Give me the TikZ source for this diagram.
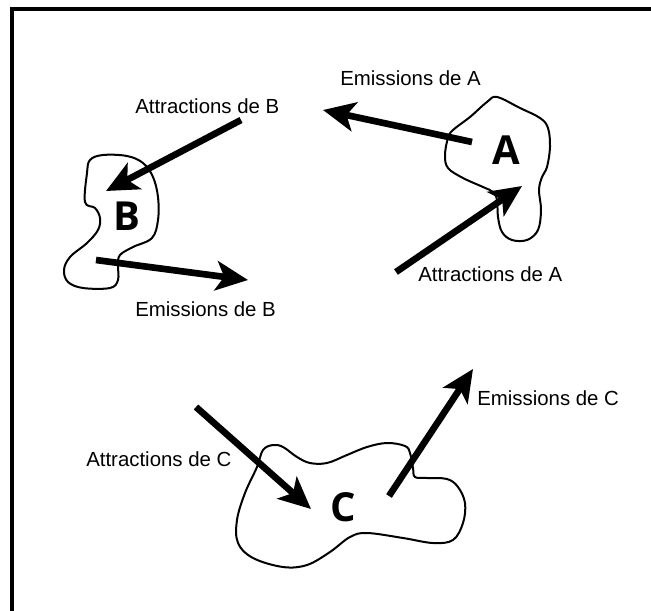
\documentclass[tikz,border=0pt]{standalone}
\usepackage{fontspec}
\setmainfont{Liberation Sans}
\newfontfamily\letterfont{Open Sans}
\usetikzlibrary{arrows.meta}
\tikzset{
  lbl/.style={anchor=west, inner sep=0pt, font=\fontsize{15.3}{17}\selectfont},
  letter/.style={inner sep=0pt, font=\letterfont\bfseries\fontsize{30}{33}\selectfont},
  blob/.style={line width=1.5pt, line join=round},
  arr/.style={line width=5pt, -{Stealth[length=24pt, width=22pt, inset=6pt]}},
  frame/.style={line width=3pt}
}
\begin{document}
\begin{tikzpicture}[x=0.75pt, y=-0.75pt]
\useasboundingbox (0,0) rectangle (651,611);
\draw[frame] (12,611) -- (12,9) -- (651,9);

% blobs
\draw[blob] plot[smooth cycle, tension=0.6] coordinates {
 (497,97) (520,108) (540,118) (548,128) (550,147) (547,167) (542,177)
 (539,190) (541,210) (538,230) (527,240) (512,240) (502,232) (498,217)
 (497,200) (493,192) (483,187) (463,178) (448,168) (445,155) (448,138)
 (453,130) (470,117) (487,102)};
\draw[blob] plot[smooth cycle, tension=0.6] coordinates {
 (103,155) (127,156) (143,163) (153,177) (158,197) (158,220) (152,238)
 (133,247) (120,255) (118,265) (118,280) (110,288) (83,288) (68,282)
 (64,270) (70,257) (87,243) (98,230) (100,218) (95,208) (85,202) (87,173) (90,160)};
\draw[blob] plot[smooth cycle, tension=0.6] coordinates {
 (273,445) (283,447) (297,457) (310,463) (327,463) (347,455) (367,447)
 (387,443) (405,446) (410,453) (413,468) (415,477) (427,478) (447,479)
 (458,487) (465,503) (463,523) (453,540) (433,543) (403,538) (367,533)
 (350,537) (330,552) (307,565) (283,567) (253,558) (238,543) (237,520)
 (245,493) (257,467) (263,450)};

% letters
\node[letter] (A) at (506,150) {A};
\node[letter] (B) at (127,216) {B};
\node[letter] (C) at (343,507) {C};

% labels
\node[lbl] (lEA) at (340,78) {Emissions de A};
\node[lbl] (lAB) at (135,106) {Attractions de B};
\node[lbl] (lEB) at (135,309) {Emissions de B};
\node[lbl] (lAA) at (418,274) {Attractions de A};
\node[lbl] (lEC) at (477,398) {Emissions de C};
\node[lbl] (lAC) at (86,459) {Attractions de C};

% arrow ends
\coordinate (eAs) at (472,142); \coordinate (eAe) at (323,110);
\coordinate (aBs) at (241,120); \coordinate (aBe) at (106,191);
\coordinate (eBs) at (96,260);  \coordinate (eBe) at (248,280);
\coordinate (aAs) at (396,272); \coordinate (aAe) at (522,186);
\coordinate (eCs) at (389,496); \coordinate (eCe) at (473,369);
\coordinate (aCs) at (196,407); \coordinate (aCe) at (311,509);

\draw[arr] (eAs) -- (eAe);
\draw[arr] (aBs) -- (aBe);
\draw[arr] (eBs) -- (eBe);
\draw[arr] (aAs) -- (aAe);
\draw[arr] (eCs) -- (eCe);
\draw[arr] (aCs) -- (aCe);
\end{tikzpicture}
\end{document}
